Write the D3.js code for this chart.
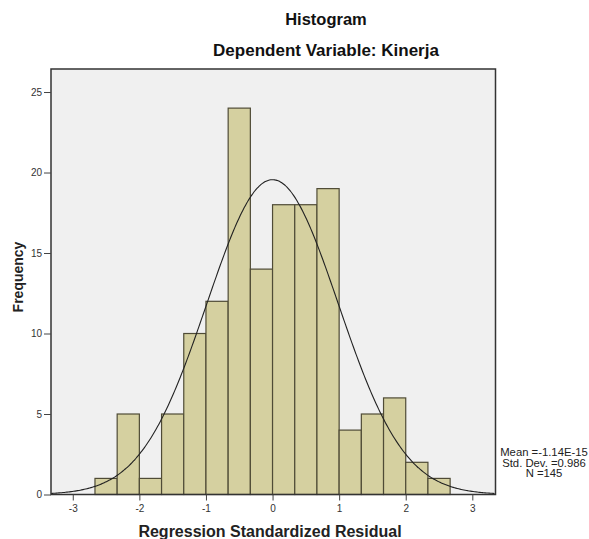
<!DOCTYPE html>
<html>
<head>
    <meta charset="UTF-8">
    <title>Histogram</title>
    <script src="https://d3js.org/d3.v7.min.js"></script>
    <style>
        body { margin: 0; background: #fff; }
    </style>
</head>
<body>
    <div id="chart"></div>
    <script>
        // bin edges (width 1/3) and counts per bin
        var binStart = -8 / 3,
            binWidth = 1 / 3;
        var counts = [1, 5, 1, 5, 10, 12, 24, 14, 18, 18, 19, 4, 5, 6, 2, 1];

        var xTicks = [-3, -2, -1, 0, 1, 2, 3];
        var yTicks = [0, 5, 10, 15, 20, 25];

        // stats from the legend
        var mean = -1.14e-15,
            stdDev = 0.986,
            n = 145;
        var statLines = ["Mean =-1.14E-15", "Std. Dev. =0.986", "N =145"];

        var bins = counts.map(function(c, i) {
            return {x0: binStart + i * binWidth, x1: binStart + (i + 1) * binWidth, count: c};
        });

        // plot frame (window.top is reserved, so use a box object)
        var frame = {left: 51, right: 495.5, top: 69, bottom: 494.5};

        var x = d3.scaleLinear()
            .domain([-3.327, 3.348])
            .range([frame.left, frame.right]);

        var y = d3.scaleLinear()
            .domain([0, 26.43])
            .range([frame.bottom, frame.top]);

        var svg = d3.select("#chart")
            .append("svg")
            .attr("width", 589)
            .attr("height", 539)
            .style("font-family", "Arial, 'Liberation Sans', sans-serif");

        // titles
        svg.append("text")
            .attr("x", 326).attr("y", 25)
            .attr("text-anchor", "middle")
            .attr("font-weight", "bold")
            .attr("font-size", 16.5)
            .attr("fill", "#111")
            .text("Histogram");

        svg.append("text")
            .attr("x", 326).attr("y", 56)
            .attr("text-anchor", "middle")
            .attr("font-weight", "bold")
            .attr("font-size", 17)
            .attr("fill", "#111")
            .text("Dependent Variable: Kinerja");

        // plot background
        svg.append("rect")
            .attr("x", frame.left).attr("y", frame.top)
            .attr("width", frame.right - frame.left).attr("height", frame.bottom - frame.top)
            .attr("fill", "#f0f0f0");

        // bars
        svg.append("g")
            .selectAll("rect")
            .data(bins)
            .join("rect")
            .attr("x", function(d) { return x(d.x0); })
            .attr("y", function(d) { return y(d.count); })
            .attr("width", function(d) { return x(d.x1) - x(d.x0); })
            .attr("height", function(d) { return y(0) - y(d.count); })
            .attr("fill", "#d5d0a0")
            .attr("stroke", "#4f4b36")
            .attr("stroke-width", 1.2);

        // normal curve scaled to counts
        var curveXs = d3.range(x.domain()[0], x.domain()[1] + 0.001, 0.02);
        var curve = curveXs.map(function(v) {
            var z = (v - mean) / stdDev;
            return {x: v, y: n * binWidth * Math.exp(-0.5 * z * z) / (stdDev * Math.sqrt(2 * Math.PI))};
        });

        var line = d3.line()
            .x(function(d) { return x(d.x); })
            .y(function(d) { return y(d.y); })
            .curve(d3.curveBasis);

        svg.append("path")
            .datum(curve)
            .attr("d", line)
            .attr("fill", "none")
            .attr("stroke", "#222")
            .attr("stroke-width", 1.1);

        // frame
        svg.append("rect")
            .attr("x", frame.left).attr("y", frame.top)
            .attr("width", frame.right - frame.left).attr("height", frame.bottom - frame.top)
            .attr("fill", "none")
            .attr("stroke", "#333")
            .attr("stroke-width", 1.5);

        // axes
        var yAxis = d3.axisLeft(y)
            .tickValues(yTicks)
            .tickSize(7)
            .tickPadding(2);

        var gy = svg.append("g")
            .attr("transform", "translate(" + frame.left + ",0)")
            .call(yAxis);
        gy.select(".domain").remove();
        gy.selectAll("line").attr("stroke", "#444");
        gy.selectAll("text")
            .attr("font-size", 10)
            .attr("fill", "#333")
            .attr("font-family", "Arial, 'Liberation Sans', sans-serif");

        var xAxis = d3.axisBottom(x)
            .tickValues(xTicks)
            .tickSize(6)
            .tickPadding(4)
            .tickFormat(d3.format("d"));

        var gx = svg.append("g")
            .attr("transform", "translate(0," + frame.bottom + ")")
            .call(xAxis);
        gx.select(".domain").remove();
        gx.selectAll("line").attr("stroke", "#444");
        gx.selectAll("text")
            .attr("font-size", 10)
            .attr("fill", "#333")
            .attr("font-family", "Arial, 'Liberation Sans', sans-serif")
            .text(function(d) { return d < 0 ? "-" + Math.abs(d) : d; });

        // axis labels
        svg.append("text")
            .attr("transform", "translate(23,277) rotate(-90)")
            .attr("text-anchor", "middle")
            .attr("font-weight", "bold")
            .attr("font-size", 14)
            .attr("fill", "#222")
            .text("Frequency");

        svg.append("text")
            .attr("x", 270).attr("y", 537)
            .attr("text-anchor", "middle")
            .attr("font-weight", "bold")
            .attr("font-size", 16)
            .attr("fill", "#222")
            .text("Regression Standardized Residual");

        // stats block
        svg.append("g")
            .selectAll("text")
            .data(statLines)
            .join("text")
            .attr("x", 544)
            .attr("y", function(d, i) { return 456 + i * 10.5; })
            .attr("text-anchor", "middle")
            .attr("font-size", 11.3)
            .attr("font-family", "'Liberation Sans Narrow', 'Arial Narrow', sans-serif")
            .attr("fill", "#222")
            .text(function(d) { return d; });
    </script>
</body>
</html>
